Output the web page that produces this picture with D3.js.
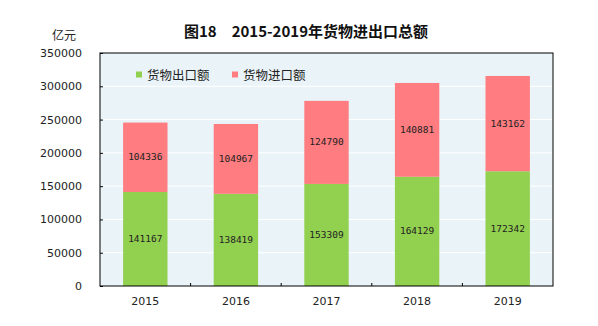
<!DOCTYPE html>
<html><head><meta charset="utf-8">
<script src="https://cdn.jsdelivr.net/npm/d3@7"></script>
<style>body{margin:0;background:#fff;}</style>
</head><body>
<svg id="c" width="598" height="326"></svg>
<script>
const years = ["2015","2016","2017","2018","2019"];
const exportVals = [141167,138419,153309,164129,172342];
const importVals = [104336,104967,124790,140881,143162];
const yTicks = [0,50000,100000,150000,200000,250000,300000,350000];
const seriesNames = ["货物出口额","货物进口额"];
const colors = ["#92D050","#FF7C80"];

const CJK = "'Noto Sans CJK SC', sans-serif";
const NUM = "'DejaVu Sans', sans-serif";
const MONO = "'DejaVu Sans Mono', monospace";

const svg = d3.select("#c");
const L=100,R=553,T=53,B=286;
const x = d3.scaleBand().domain(years).range([L,R]).paddingInner(0).paddingOuter(0);
const y = d3.scaleLinear().domain([0,350000]).range([B,T]);

svg.append("rect").attr("x",L).attr("y",T).attr("width",R-L).attr("height",B-T).attr("fill","#EAF4F8");
svg.selectAll(".grid").data(yTicks.slice(1,-1)).enter().append("line")
  .attr("x1",L).attr("x2",R).attr("y1",d=>y(d)).attr("y2",d=>y(d)).attr("stroke","#fff").attr("stroke-width",1);

const bw = x.bandwidth()*0.49;
const data = years.map((yr,i)=>({yr,e:exportVals[i],im:importVals[i]}));
const g = svg.append("g");
data.forEach(d=>{
  const cx = x(d.yr)+x.bandwidth()/2;
  g.append("rect").attr("x",cx-bw/2).attr("width",bw).attr("y",y(d.e)).attr("height",y(0)-y(d.e)).attr("fill",colors[0]);
  g.append("rect").attr("x",cx-bw/2).attr("width",bw).attr("y",y(d.e+d.im)).attr("height",y(d.e)-y(d.e+d.im)).attr("fill",colors[1]);
  g.append("text").attr("x",cx).attr("y",(y(0)+y(d.e))/2+3).attr("text-anchor","middle").style("font-size","9.5px").attr("fill","#222").style("font-family",MONO).text(d.e);
  g.append("text").attr("x",cx).attr("y",(y(d.e)+y(d.e+d.im))/2+3).attr("text-anchor","middle").style("font-size","9.5px").attr("fill","#222").style("font-family",MONO).text(d.im);
});

// frame
svg.append("rect").attr("x",L).attr("y",T).attr("width",R-L).attr("height",B-T).attr("fill","none").attr("stroke","#000").attr("stroke-width",1);

// y axis
const ya = svg.append("g").attr("transform",`translate(${L},0)`).call(d3.axisRight(y).tickValues(yTicks).tickSize(3).tickFormat(""));
ya.select(".domain").remove();
ya.selectAll("line").attr("stroke","#000");
svg.selectAll(".yl").data(yTicks).enter().append("text").attr("x",82).attr("y",d=>y(d)+4).attr("text-anchor","end")
  .style("font-size","11px").attr("fill","#222").style("font-family",NUM).text(d=>d);

// x axis
const xa = svg.append("g").attr("transform",`translate(0,${B})`);
years.slice(1).forEach(yr=>{
  xa.append("line").attr("x1",x(yr)).attr("x2",x(yr)).attr("y1",0).attr("y2",-3).attr("stroke","#000");
});
years.forEach(yr=>{
  svg.append("text").attr("x",x(yr)+x.bandwidth()/2).attr("y",305).attr("text-anchor","middle").style("font-size","11px")
    .attr("fill","#222").style("font-family",NUM).text(yr);
});

// title
svg.append("text").attr("x",306).attr("y",37).attr("text-anchor","middle").style("font-size","15px").attr("font-weight","bold")
  .attr("fill","#111").style("font-family",CJK).text("图18　2015-2019年货物进出口总额");
svg.append("text").attr("x",64).attr("y",40).attr("text-anchor","middle").style("font-size","12px").attr("fill","#222").style("font-family",CJK).text("亿元");

// legend
const lx=[136,232];
seriesNames.forEach((n,i)=>{
  svg.append("rect").attr("x",lx[i]).attr("y",71.5).attr("width",6).attr("height",6).attr("fill",colors[i]);
  svg.append("text").attr("x",lx[i]+11).attr("y",79.5).style("font-size","12.5px").attr("fill","#222").style("font-family",CJK).text(n);
});
</script>
</body></html>
